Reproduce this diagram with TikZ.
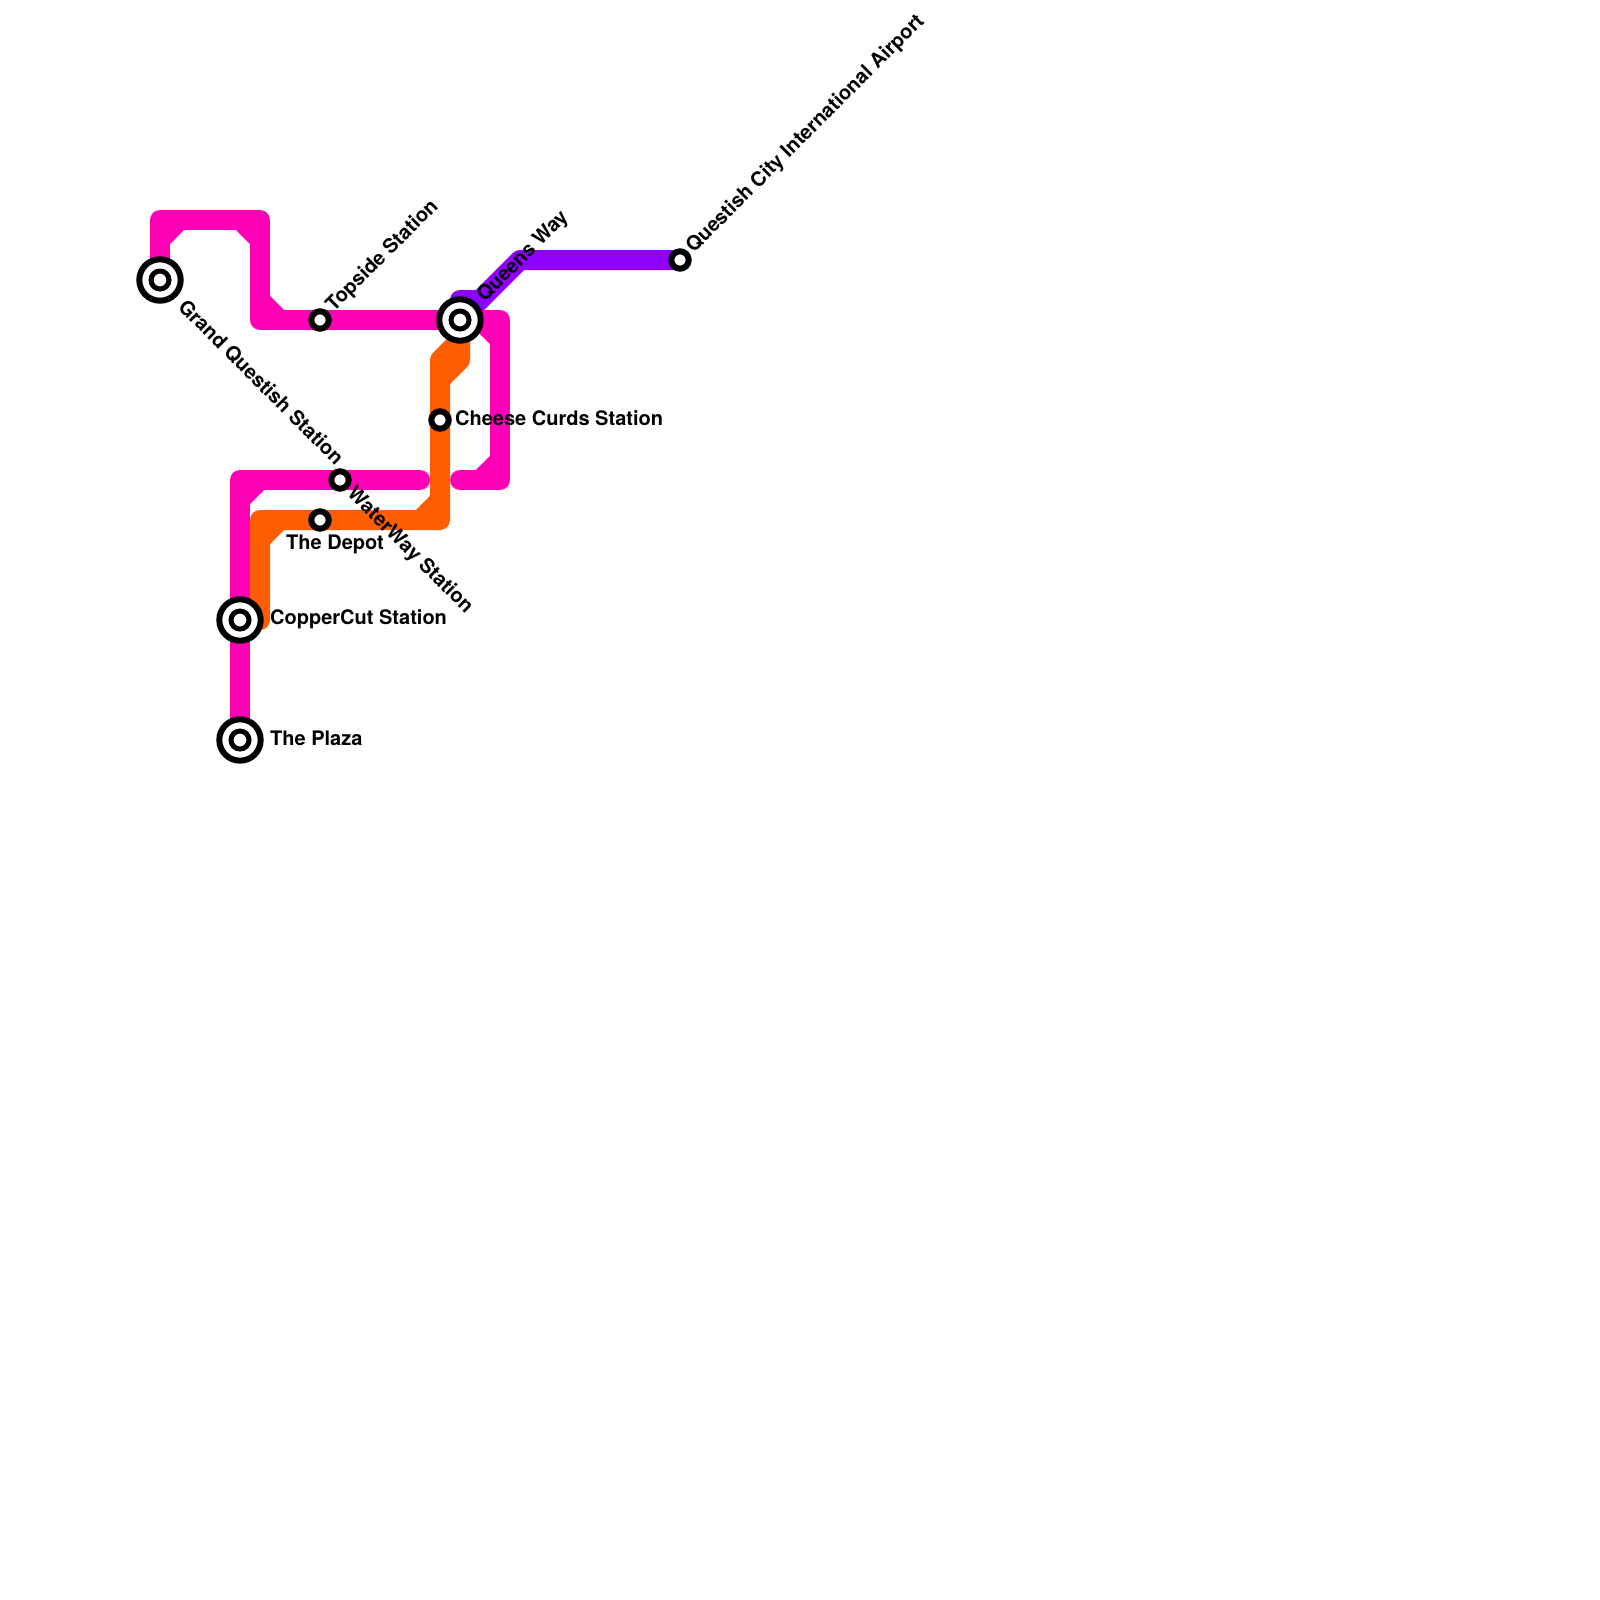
\documentclass[tikz,border=0pt]{standalone}
\usepackage{fontspec}
\setmainfont{TeX Gyre Heros}
\usepackage{xcolor}
\usetikzlibrary{backgrounds}
\definecolor{pinkline}{HTML}{FF00B7}
\definecolor{orangeline}{HTML}{FF5E00}
\definecolor{purpleline}{HTML}{9000FF}

\begin{document}
\begin{tikzpicture}[x=1pt,y=-1pt,
  route/.style={line width=20pt, line cap=round, line join=round},
  stop/.style={circle, draw, fill=white, line width=6pt, minimum size=17.4pt, inner sep=0pt, outer sep=0pt},
  hub/.style={circle, draw, fill=white, line width=6pt, minimum size=41.4pt, inner sep=0pt, outer sep=0pt,
              path picture={\draw[line width=5pt] (path picture bounding box.center) circle (9pt);}},
  lbl/.style={font=\fontsize{20}{22}\selectfont\bfseries, inner sep=0pt, anchor=west}
]
\useasboundingbox (0,0) rectangle (1600,1600);

\node[hub]  (grand)   at (160,280) {};
\node[hub]  (copper)  at (240,620) {};
\node[hub]  (plaza)   at (240,740) {};
\node[hub]  (queens)  at (460,320) {};
\node[stop] (topside) at (320,320) {};
\node[stop] (cheese)  at (440,420) {};
\node[stop] (water)   at (340,480) {};
\node[stop] (depot)   at (320,520) {};
\node[stop] (airport) at (680,260) {};

\node[lbl,rotate=-45] (grandlbl)   at (182,303) {Grand Questish Station};
\node[lbl,rotate=45]  (topsidelbl) at (330,309) {Topside Station};
\node[lbl,rotate=45]  (queenslbl)  at (481,299) {Queens Way};
\node[lbl,rotate=45]  (airportlbl) at (690,250) {Questish City International Airport};
\node[lbl]            (cheeselbl)  at (455,418) {Cheese Curds Station};
\node[lbl,rotate=-45] (waterlbl)   at (350,491) {WaterWay Station};
\node[lbl]            (depotlbl)   at (286,544) {The Depot};
\node[lbl]            (copperlbl)  at (270,619) {CopperCut Station};
\node[lbl]            (plazalbl)   at (270,738) {The Plaza};

\begin{scope}[on background layer]
  \coordinate (p1) at (160,220);
  \coordinate (p2) at (260,220);
  \coordinate (p3) at (260,320);
  \coordinate (p4) at (500,320);
  \coordinate (p5) at (500,480);
  \coordinate (p6) at (460,480);
  \coordinate (p7) at (420,480);
  \coordinate (p8) at (240,480);
  \coordinate (o1) at (260,620);
  \coordinate (o2) at (260,520);
  \coordinate (o3) at (440,520);
  \coordinate (o4) at (440,380);
  \coordinate (o5) at (460,360);
  \coordinate (o6) at (440,360);
  \coordinate (o7) at (460,340);
  \coordinate (v1) at (460,300);
  \coordinate (v2) at (480,300);
  \coordinate (v3) at (520,260);

  \draw[route,purpleline] (queens.center) -- (v1) -- (v2);
  \draw[route,purpleline] (queens.center) -- (v3) -- (airport.center);

  \draw[route,pinkline] (grand.center) -- (p1) -- (p2) -- (p3) -- (topside.center) -- (queens.center) -- (p4) -- (p5) -- (p6);
  \draw[route,pinkline] (p7) -- (water.center) -- (p8) -- (copper.center) -- (plaza.center);
  % the inner side of each bend is cut off
  \foreach \c/\dx/\dy in {p1/20/20, p2/-20/20, p3/20/-20, p4/-20/20, p5/-20/-20, p8/20/20}
    \draw[route,pinkline] (\c) ++(\dx,0) -- ++(-\dx,\dy);

  \draw[route,orangeline] (queens.center) -- (o5) -- (o4) -- (cheese.center) -- (o3) -- (depot.center) -- (o2) -- (o1);
  \draw[route,orangeline] (o7) -- (o6) -- (o4);
  \foreach \c/\dx/\dy in {o2/20/20, o3/-20/-20}
    \draw[route,orangeline] (\c) ++(\dx,0) -- ++(-\dx,\dy);
\end{scope}
\end{tikzpicture}
\end{document}
